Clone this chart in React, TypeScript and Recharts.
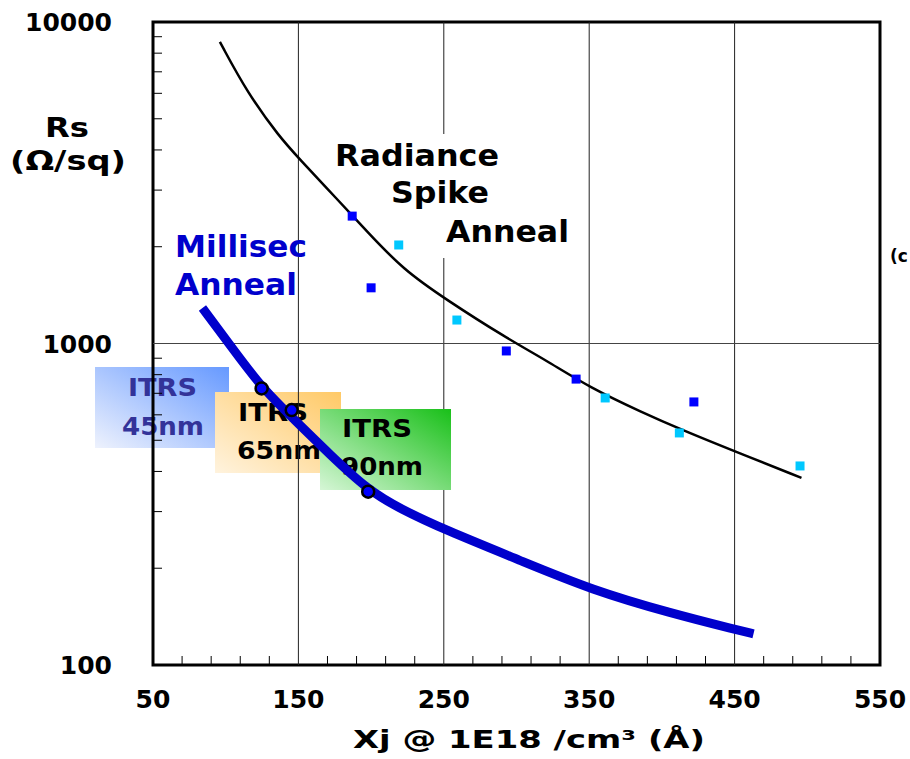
import React from "react";
import { ComposedChart, Line, Scatter, XAxis, YAxis, ReferenceArea, ReferenceLine } from "recharts";

const W = 910;
const H = 759;

// axis ticks
const xTicks = [50, 150, 250, 350, 450, 550];
const xMinorTicks = [70, 90, 110, 130, 170, 190, 210, 230, 270, 290, 310, 330, 370, 390, 410, 430, 470, 490, 510, 530];
const yTicks = [100, 1000, 10000];
const yMinorTicks = [200, 300, 400, 500, 600, 700, 800, 900, 2000, 3000, 4000, 5000, 6000, 7000, 8000, 9000];
const xGrid = [150, 250, 350, 450];
const yGrid = [1000];

// Radiance spike anneal fit line
const spikeFitXj = [96, 115, 137, 150, 177, 198, 222, 251, 293, 320, 351, 386, 414, 448, 496];
const spikeFitRs = [8670, 6010, 4390, 3780, 2800, 2210, 1700, 1375, 1040, 889, 727, 612, 538, 466, 382];

// measured points (two runs)
const spikeAXj = [187, 200, 293, 341, 422];
const spikeARs = [2490, 1490, 948, 775, 658];
const spikeBXj = [219, 259, 361, 412, 495];
const spikeBRs = [2025, 1183, 677, 527, 416];

// millisec anneal curve
const msecXj = [84, 104, 125, 146, 172, 198, 220, 251, 302, 352, 406, 452, 463];
const msecRs = [1290, 975, 727, 587, 450, 350, 306, 263, 212, 171, 145, 128.5, 125];

// ITRS nodes on the millisec curve
const itrsXj = [124.7, 145.4, 198];
const itrsRs = [725, 621, 346];

const zip = (xs: number[], ys: number[]) => xs.map((xj, i) => ({ xj, rs: ys[i] }));

const spikeFit = zip(spikeFitXj, spikeFitRs);
const spikeA = zip(spikeAXj, spikeARs);
const spikeB = zip(spikeBXj, spikeBRs);
const msecFit = zip(msecXj, msecRs);
const itrsNodes = zip(itrsXj, itrsRs);

const allXTicks = [...xTicks, ...xMinorTicks].sort((a, b) => a - b);
const allYTicks = [...yTicks, ...yMinorTicks].sort((a, b) => a - b);

const FONT = "'DejaVu Sans', Verdana, sans-serif";
const TICK_FS = 25;
const X_MARGIN = 25;
const Y_MARGIN = 41;
const MINOR_LEN = 9;

// bottom axis: inward minor ticks + labels on the major ones
function XTick({ x, y, payload }: any) {
  const v = Number(payload.value);
  const axisY = y - X_MARGIN;
  if (xTicks.includes(v)) {
    return (
      <text x={x} y={y} dy="0.71em" textAnchor="middle" fontSize={TICK_FS} fontWeight={700} fontFamily={FONT} fill="#000">
        {v}
      </text>
    );
  }
  return <line x1={x} x2={x} y1={axisY} y2={axisY - MINOR_LEN} stroke="#000" strokeWidth={1} />;
}

function YTick({ x, y, payload }: any) {
  const v = Number(payload.value);
  const axisX = x + Y_MARGIN;
  if (yTicks.includes(v)) {
    return (
      <text x={x} y={y} dy="0.36em" textAnchor="end" fontSize={TICK_FS} fontWeight={700} fontFamily={FONT} fill="#000">
        {v}
      </text>
    );
  }
  return <line x1={axisX} x2={axisX + MINOR_LEN} y1={y} y2={y} stroke="#000" strokeWidth={1} />;
}

const square = (color: string) => (p: any) => (
  <rect x={p.cx - 4.5} y={p.cy - 4.5} width={9} height={9} fill={color} />
);

const node = (p: any) => (
  <circle cx={p.cx} cy={p.cy} r={6} fill="#0000ff" stroke="#000" strokeWidth={2.5} />
);

function Label({ x, y, w, size, fill = "#000", children }: any) {
  return (
    <text x={x} y={y} fontSize={size} fontWeight={700} fontFamily={FONT} fill={fill}
      textLength={w} lengthAdjust="spacingAndGlyphs">
      {children}
    </text>
  );
}

function Grad({ id, from, to }: { id: string; from: string; to: string }) {
  return (
    <linearGradient id={id} x1="0" y1="1" x2="1" y2="0">
      <stop offset="0" stopColor={from} />
      <stop offset="1" stopColor={to} />
    </linearGradient>
  );
}

const layer: React.CSSProperties = { position: "absolute", left: 0, top: 0 };

export default function App() {
  return (
    <div style={{ position: "absolute", left: 0, top: 0, width: W, height: H, background: "#fff", overflow: "hidden" }}>
      {/* boxes that sit under the grid */}
      <svg width={W} height={H} style={layer}>
        <defs>
          <Grad id="g45" from="#eef2fd" to="#6699ff" />
          <Grad id="g65" from="#fff3de" to="#ffc966" />
        </defs>
        <rect x={95} y={367} width={134} height={81} fill="url(#g45)" />
        <Label x={128} y={396} w={69} size={25} fill="#333399">ITRS</Label>
        <Label x={122} y={435} w={82} size={25} fill="#333399">45nm</Label>
        <rect x={215} y={392} width={126} height={81} fill="url(#g65)" />
        <Label x={238} y={421} w={70} size={25}>ITRS</Label>
        <Label x={237} y={459} w={84} size={25}>65nm</Label>
      </svg>

      <div style={layer}>
        <ComposedChart width={W} height={H} margin={{ top: 22, right: 30, left: 53, bottom: 34 }}>
          <XAxis type="number" dataKey="xj" domain={[50, 550]} ticks={allXTicks} interval={0} allowDataOverflow
            height={60} axisLine={false} tickLine={false} tickSize={0} tickMargin={X_MARGIN} tick={<XTick />} />
          <YAxis type="number" scale="log" dataKey="rs" domain={[100, 10000]} ticks={allYTicks} interval={0} allowDataOverflow
            width={100} axisLine={false} tickLine={false} tickSize={0} tickMargin={Y_MARGIN} tick={<YTick />} />
          {xGrid.map((v) => (
            <ReferenceLine key={`gx${v}`} x={v} stroke="#222" strokeWidth={1} />
          ))}
          {yGrid.map((v) => (
            <ReferenceLine key={`gy${v}`} y={v} stroke="#444" strokeWidth={1.2} />
          ))}
          <ReferenceArea x1={50} x2={550} y1={100} y2={10000} fill="none" stroke="#000" strokeWidth={3} ifOverflow="visible" />
          <Line data={spikeFit} dataKey="rs" type="basis" stroke="#000" strokeWidth={2.5} dot={false} activeDot={false} isAnimationActive={false} />
          <Scatter data={spikeA} dataKey="rs" shape={square("#0000ff")} isAnimationActive={false} />
          <Scatter data={spikeB} dataKey="rs" shape={square("#00c8ff")} isAnimationActive={false} />
        </ComposedChart>
      </div>

      {/* annotations above the grid */}
      <svg width={W} height={H} style={layer}>
        <defs>
          <Grad id="g90" from="#d6f6d6" to="#19c019" />
        </defs>
        <rect x={320} y={409} width={131} height={81} fill="url(#g90)" />
        <Label x={342} y={437} w={70} size={25}>ITRS</Label>
        <Label x={341} y={475} w={82} size={25}>90nm</Label>

        <rect x={434} y={134} width={140} height={124} fill="#fff" />
        <Label x={335} y={166} w={164} size={30}>Radiance</Label>
        <Label x={391} y={203} w={98} size={30}>Spike</Label>
        <Label x={446} y={242} w={123} size={30}>Anneal</Label>

        <Label x={175} y={257} w={132} size={30} fill="#0000cc">Millisec</Label>
        <Label x={175} y={295} w={122} size={30} fill="#0000cc">Anneal</Label>

        <Label x={45} y={137} w={44} size={26}>Rs</Label>
        <Label x={10} y={170} w={116} size={26}>(Ω/sq)</Label>

        <Label x={353} y={748} w={352} size={25}>Xj @ 1E18 /cm³ (Å)</Label>

        <text x={890} y={262} fontSize={17} fontWeight={700} fontFamily={FONT} fill="#000">(c</text>
      </svg>

      <div style={layer}>
        <ComposedChart width={W} height={H} margin={{ top: 22, right: 30, left: 153, bottom: 94 }}>
          <XAxis hide type="number" dataKey="xj" domain={[50, 550]} allowDataOverflow />
          <YAxis hide type="number" scale="log" dataKey="rs" domain={[100, 10000]} allowDataOverflow />
          <Line data={msecFit} dataKey="rs" type="basis" stroke="#0000cc" strokeWidth={9} dot={false} activeDot={false} isAnimationActive={false} />
          <Scatter data={itrsNodes} dataKey="rs" shape={node} isAnimationActive={false} />
        </ComposedChart>
      </div>
    </div>
  );
}
